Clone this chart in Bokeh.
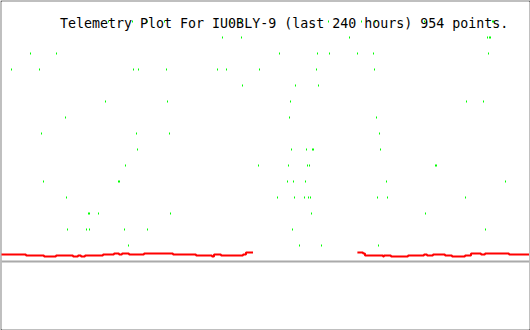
from bokeh.plotting import figure
from bokeh.models import Range1d, Span, Label, ColumnDataSource
from bokeh.embed import file_html
from bokeh.resources import INLINE

title_text = "Telemetry Plot For IU0BLY-9 (last 240 hours) 954 points."

# green telemetry samples: hours (0..240) for each discrete level 1..15
green_levels = {
    15: [48.86, 59.77, 66.59, 74.32, 104.32, 108.86, 148.86, 163.86, 170.23, 192.5, 223.41, 223.86],
    14: [100.68, 109.32, 158.41, 221.14, 222.05, 222.5],
    13: [13.41, 25.23, 126.59, 143.86, 149.32, 162.05, 169.32, 221.59],
    12: [4.77, 17.5, 60.23, 62.5, 75.23, 98.41, 102.5, 117.5, 143.41, 169.77],
    11: [109.77, 133.86, 144.32],
    10: [47.5, 75.68, 131.59, 211.59, 219.32],
    9: [29.32, 131.14, 170.68],
    8: [18.41, 61.59, 76.59, 172.05],
    7: [62.05, 132.05, 138.86, 141.59, 142.05, 172.5],
    6: [56.59, 117.05, 130.68, 139.32, 140.23, 197.5, 197.95],
    5: [19.32, 53.41, 53.86, 130.23, 132.95, 138.41, 175.23, 229.32],
    4: [29.77, 125.68, 133.41, 137.95, 139.77, 140.68, 171.14, 175.68, 211.14],
    3: [39.77, 40.23, 44.32, 77.05, 141.14, 192.95],
    2: [30.23, 38.86, 40.23, 56.14, 66.59, 132.5, 220.23],
    1: [57.95, 135.68, 145.68, 171.59],
}

# red telemetry series (two runs, gap in between)
red1_hours = [0, 11.36, 19.55, 25.0, 32.73, 35.0, 36.36, 38.18, 46.36, 51.36, 53.64, 55.0,
              58.18, 65.0, 78.18, 88.64, 95.91, 96.82, 100.0, 110.0, 111.36, 114.55]
red1_vals = [0.4375, 0.375, 0.3125, 0.375, 0.3125, 0.375, 0.3125, 0.375, 0.4375, 0.5, 0.4375, 0.5,
             0.4375, 0.5, 0.4375, 0.375, 0.3125, 0.4375, 0.375, 0.4375, 0.5625, 0.5625]
red2_hours = [162.0, 164.55, 165.45, 173.64, 174.09, 177.27, 185.0, 192.27, 193.64, 196.36, 201.82,
              205.0, 210.91, 213.64, 218.18, 220.0, 230.91, 240.0]
red2_vals = [0.5625, 0.5, 0.375, 0.3125, 0.375, 0.3125, 0.375, 0.4375, 0.375, 0.4375, 0.375,
             0.3125, 0.375, 0.5, 0.4375, 0.5, 0.4375, 0.4375]

baseline = 0.0

gx, gy = [], []
for lvl, hrs in green_levels.items():
    for h in hrs:
        gx.append(h)
        gy.append(lvl)

p = figure(width=530, height=330, output_backend="svg", toolbar_location=None,
           x_axis_type=None, y_axis_type=None,
           x_range=Range1d(0.227, 240.227), y_range=Range1d(-4.25, 16.25),
           min_border_left=1, min_border_right=1, min_border_top=1, min_border_bottom=1,
           border_fill_color="black", background_fill_color="white",
           outline_line_color=None)
p.grid.visible = False

p.rect(x="x", y="y", width=1, height=2, width_units="screen", height_units="screen",
       source=ColumnDataSource(dict(x=gx, y=gy)),
       fill_color="#00ff00", line_color=None)

p.step(red1_hours, red1_vals, mode="after", line_color="#ff0000", line_width=2)
p.step(red2_hours, red2_vals, mode="after", line_color="#ff0000", line_width=2)

p.add_layout(Span(location=baseline, dimension="width", line_color="#aaaaaa", line_width=2))

p.add_layout(Label(x=26.82, y=14.906, text=title_text, text_font="DejaVu Sans Mono",
                   text_font_size="13.3px", text_color="black", text_baseline="alphabetic"))

open("out.html", "w").write(file_html(p, INLINE))
